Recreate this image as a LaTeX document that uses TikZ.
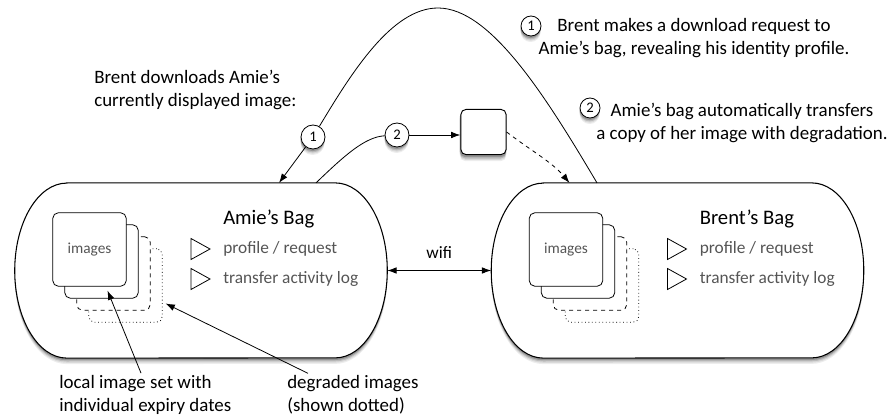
\documentclass[tikz,border=0pt]{standalone}
\usepackage{fontspec}
\setmainfont{Carlito}
\usetikzlibrary{arrows.meta,calc,backgrounds}

\definecolor{textgray}{HTML}{555555}

% outline of a bag, moved down by #2
\newcommand\bagpath[2]{($(#1.north west)+(52,#2)$) -- ($(#1.north east)+(-52,#2)$)
    arc[start angle=-90, end angle=90, x radius=52, y radius=87.5]
    -- ($(#1.south west)+(52,#2)$)
    arc[start angle=90, end angle=270, x radius=52, y radius=87.5] -- cycle}
\newcommand\shadesteps{6/7, 4.7/15, 3.4/27, 2.1/42}

\tikzset{
  bag/.style={rectangle, minimum width=279pt, minimum height=131pt, inner sep=0pt},
  bagline/.style={line width=0.8pt, fill=white},
  imgcard/.style={draw, fill=white, rounded corners=4pt, minimum size=55pt, inner sep=0pt,
    line width=0.6pt, font=\fontsize{11.5}{13}\selectfont},
  numcircle/.style={circle, draw, fill=white, inner sep=0pt, minimum size=#1,
    font=\fontsize{11}{12}\selectfont, line width=0.6pt},
  numcircle/.default=18pt,
  listtext/.style={anchor=west, text=textgray, inner sep=0pt, font=\fontsize{13}{15}\selectfont},
  note/.style={inner sep=0pt, font=\fontsize{14.2}{17.25}\selectfont}
}

\begin{document}
\begin{tikzpicture}[x=0.75pt, y=-0.75pt, >={Latex[length=7pt,width=5pt]},
  font=\fontsize{13}{15}\selectfont]
\useasboundingbox (0,0) rectangle (895,420);

% the two bags
\node[bag] (amie) at (201,270.5) {};
\node[bag] (brent) at (677.5,270.5) {};
\foreach \b in {amie,brent} {
  \foreach \s/\c in \shadesteps {
    \fill[black!\c] \bagpath{\b}{\s};
  }
  \draw[bagline] \bagpath{\b}{0};
}

% image stacks, titles and lists
\foreach \b/\p/\t in {amie/a/Amie's Bag, brent/b/Brent's Bag} {
  \node[imgcard, dotted] (\p-dot) at ($(\b)+(-75.5,15)$) {};
  \node[imgcard, dashed] (\p-dash) at ($(\b)+(-87.5,3)$) {};
  \node[imgcard] (\p-back) at ($(\b)+(-99.5,-9)$) {};
  \node[imgcard, text=textgray] (\p-img) at ($(\b)+(-111.5,-21)$) {images};
  \node[anchor=west, inner sep=0pt, font=\fontsize{15.5}{17}\selectfont] (\p-title) at ($(\b)+(22,-52)$) {\t};
  \node[listtext] (\p-prof) at ($(\b)+(22,-21.5)$) {profile / request};
  \node[listtext] (\p-log) at ($(\b)+(22,8.5)$) {transfer activity log};
  \foreach \dy in {-21.5,8.5} {
    \draw[line width=0.6pt] ($(\b)+(-10,\dy-10.5)$) -- ($(\b)+(9,\dy)$) -- ($(\b)+(-10,\dy+10.5)$) -- cycle;
  }
}

% wifi link
\draw[<->, line width=0.7pt] (amie.east) -- node[above=9pt, inner sep=0pt] (wifi) {wifi} (brent.west);

% download request and transfer
\node[numcircle] (c1) at (313,137) {1};
\node[numcircle] (c2) at (397,135) {2};
\node[draw, fill=white, rounded corners=4pt, minimum size=34pt, inner sep=0pt, line width=0.7pt] (sq) at (483.5,132) {};
\draw[line width=0.6pt] ($(brent.north)+(-80.5,0)$) .. controls (545,95) and (490,8) .. (438,8)
  .. controls (392,8) and (352,72) .. (c1);
\draw[->, line width=0.6pt] (c1) -- ($(amie.north)+(78,0)$);
\draw[line width=0.6pt] ($(amie.north)+(115,0)$) .. controls (345,155) and (365,137) .. (c2);
\draw[->, line width=0.6pt] (c2.east) -- (c2.east -| sq.west);
\draw[->, dashed, line width=0.6pt] (sq.east) .. controls (530,150) and (552,162) .. ($(brent.north)+(-108,0)$);

% notes
\node[note, anchor=west, align=left] (dl) at (94,90) {Brent downloads Amie's\\currently displayed image:};
\node[numcircle=15pt] (n1) at (531,26) {1};
\node[note, align=center] (t1) at (694,38.5) {Brent makes a download request to\\Amie's bag, revealing his identity profile.};
\node[numcircle=15pt] (n2) at (590,108) {2};
\node[note, align=center] (t2) at (742,122.5) {Amie's bag automatically transfers\\a copy of her image with degradation.};

% shadows of the small shapes
\begin{pgfonlayer}{background}
\foreach \s/\c in \shadesteps {
  \foreach \n in {c1,c2} { \fill[black!\c] ($(\n.center)+(-0.4,\s)$) circle[radius=9pt]; }
  \foreach \n in {n1,n2} { \fill[black!\c] ($(\n.center)+(-0.4,\s)$) circle[radius=7.5pt]; }
  \fill[black!\c, rounded corners=4pt] ($(sq.south west)+(-0.4,\s)$) rectangle ($(sq.north east)+(-0.4,\s)$);
}
\end{pgfonlayer}

% labels below
\node[note, anchor=west, align=left] (lab1) at (59,395) {local image set with\\individual expiry dates};
\node[note, anchor=west, align=left] (lab2) at (287,395) {degraded images\\(shown dotted)};
\draw[->, line width=0.6pt] ($(lab1.north west)+(82,-2)$) -- ($(a-img.south)+(18,4)$);
\draw[->, line width=0.6pt] ($(lab2.north west)+(21,-2)$) -- ($(a-dot.east)+(3,18)$);
\end{tikzpicture}
\end{document}
